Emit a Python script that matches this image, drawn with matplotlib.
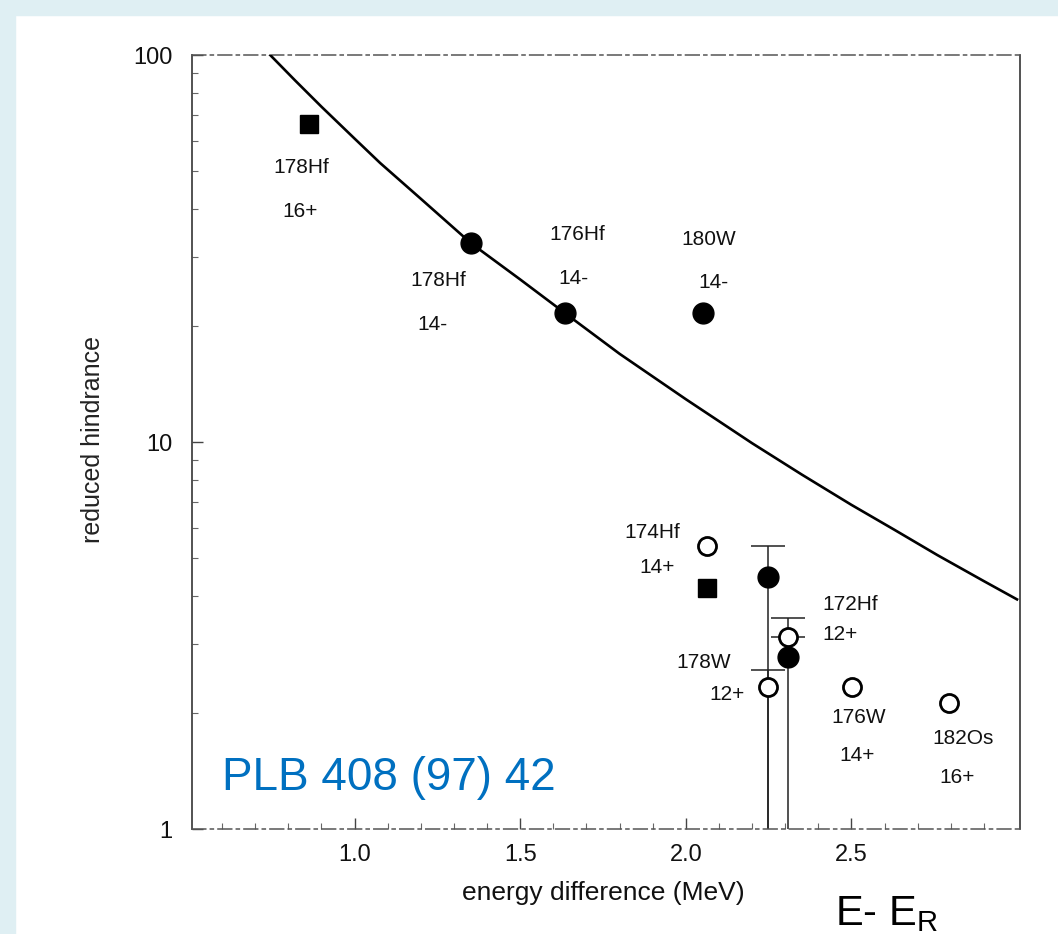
import matplotlib
matplotlib.use("Agg")
import matplotlib.pyplot as plt
from matplotlib.patches import Rectangle
from matplotlib.ticker import FixedLocator, NullFormatter, LogLocator

plt.rcParams['font.family'] = ['Liberation Sans', 'DejaVu Sans']
plt.rcParams['mathtext.fontset'] = 'custom'
plt.rcParams['mathtext.rm'] = 'Liberation Sans'

# systematics curve
curve_x = [0.745, 0.82, 0.9, 1.0, 1.077, 1.2, 1.352, 1.5, 1.636, 1.8, 2.0,
           2.2, 2.35, 2.5, 2.63, 2.76, 2.9, 3.0]
curve_y = [100, 86, 73.5, 60.8, 52.6, 42.5, 32.6, 26.3, 21.5, 16.9, 12.9,
           9.93, 8.24, 6.88, 5.93, 5.10, 4.37, 3.92]

# isomers
fc_x = [1.352, 1.636, 2.053, 2.249, 2.31]
fc_y = [32.6, 21.5, 21.5, 4.48, 2.78]
fs_x = [0.863, 2.065]
fs_y = [66.3, 4.2]
oc_x = [2.065, 2.31, 2.249, 2.503, 2.796]
oc_y = [5.38, 3.13, 2.33, 2.33, 2.12]

# error bars (lower / upper limits)
err_x = [2.249, 2.249, 2.31, 2.31]
err_y = [4.48, 2.33, 3.13, 2.78]
err_lo = [0.5, 0.5, 3.13, 0.5]
err_hi = [5.38, 2.58, 3.51, 2.78]
err_cap = [12, 12, 12, 0]

nuclei = ["178Hf", "178Hf", "176Hf", "180W", "174Hf", "172Hf", "178W", "176W", "182Os"]
nuc_x = [0.838, 1.252, 1.672, 2.068, 1.899, 2.497, 2.053, 2.521, 2.838]
nuc_y = [51.3, 26.2, 34.3, 33.3, 5.85, 3.81, 2.70, 1.94, 1.71]
spins = ["16+", "14-", "14-", "14-", "14+", "12+", "12+", "14+", "16+"]
spin_x = [0.835, 1.234, 1.660, 2.083, 1.914, 2.467, 2.125, 2.518, 2.820]
spin_y = [39.3, 20.1, 26.5, 25.9, 4.73, 3.19, 2.22, 1.55, 1.36]

W, H = 1058, 934
fig = plt.figure(figsize=(W / 100, H / 100), dpi=100)
fig.patches.append(Rectangle((0, 1 - 15 / H), 1, 15 / H, transform=fig.transFigure,
                             color='#dfeff3', zorder=0))
fig.patches.append(Rectangle((0, 0), 15 / W, 1, transform=fig.transFigure,
                             color='#dfeff3', zorder=0))

ax = fig.add_axes([192 / W, 1 - 829 / H, (1020 - 192) / W, (829 - 55) / H])
ax.set_yscale('log')
ax.set_xlim(0.509, 3.009)
ax.set_ylim(1, 100)

ax.plot(curve_x, curve_y, color='black', lw=1.9, zorder=3)

for x, y, lo, hi, cs in zip(err_x, err_y, err_lo, err_hi, err_cap):
    ax.errorbar([x], [y], yerr=[[y - lo], [hi - y]], fmt='none', ecolor='#222222',
                elinewidth=1.1, capsize=cs, capthick=1.1, zorder=2)

ax.plot(fc_x, fc_y, 'o', color='black', ms=15, zorder=4)
ax.plot(fs_x, fs_y, 's', color='black', ms=13, zorder=4)
ax.plot(oc_x, oc_y, 'o', mfc='white', mec='black', mew=2, ms=13, zorder=4)

for t, x, y in zip(nuclei, nuc_x, nuc_y):
    ax.text(x, y, t, ha='center', va='center', fontsize=15, color='#111111')
for t, x, y in zip(spins, spin_x, spin_y):
    ax.text(x, y, t, ha='center', va='center', fontsize=15, color='#111111')

# axes frame, scanned look
for side in ['left', 'right']:
    ax.spines[side].set_color('#444444')
    ax.spines[side].set_linewidth(1.3)
for side in ['top', 'bottom']:
    ax.spines[side].set_color('#555555')
    ax.spines[side].set_linewidth(1.1)
    ax.spines[side].set_linestyle((0, (9, 3, 2, 3)))

ax.xaxis.set_major_locator(FixedLocator([1.0, 1.5, 2.0, 2.5]))
ax.xaxis.set_minor_locator(FixedLocator([0.6, 0.7, 0.8, 0.9, 1.1, 1.2, 1.3, 1.4, 1.6, 1.7,
                                         1.8, 1.9, 2.1, 2.2, 2.3, 2.4, 2.6, 2.7, 2.8, 2.9]))
ax.set_xticklabels(['1.0', '1.5', '2.0', '2.5'])
ax.yaxis.set_major_locator(FixedLocator([1, 10, 100]))
ax.set_yticklabels(['1', '10', '100'])
ax.yaxis.set_minor_locator(LogLocator(base=10, subs=range(2, 10)))
ax.yaxis.set_minor_formatter(NullFormatter())
ax.tick_params(axis='both', which='major', direction='in', length=8, width=1,
               color='#444444', labelsize=17, labelcolor='#111111')
ax.tick_params(axis='x', which='major', pad=11)
ax.tick_params(axis='y', which='major', pad=14)
ax.tick_params(axis='both', which='minor', direction='in', length=4, width=0.8,
               color='#666666')

ax.set_xlabel('energy difference (MeV)', fontsize=19, color='#111111')
ax.xaxis.set_label_coords(0.4964, -0.0827)
ax.xaxis.label.set_va('center')
ax.set_ylabel('reduced hindrance', fontsize=18, color='#222222')
ax.yaxis.set_label_coords(-0.1196, 0.5026)
ax.yaxis.label.set_va('center')

ax.text(222 / W, 1 - 778 / H, 'PLB 408 (97) 42', transform=fig.transFigure,
        ha='left', va='center', fontsize=33, color='#0070C0')
fig.text(835 / W, 1 - 925 / H, r'E- E$_{\mathregular{R}}$', ha='left', va='baseline',
         fontsize=30, color='black')

fig.savefig('out.png', dpi=100, facecolor='white')
